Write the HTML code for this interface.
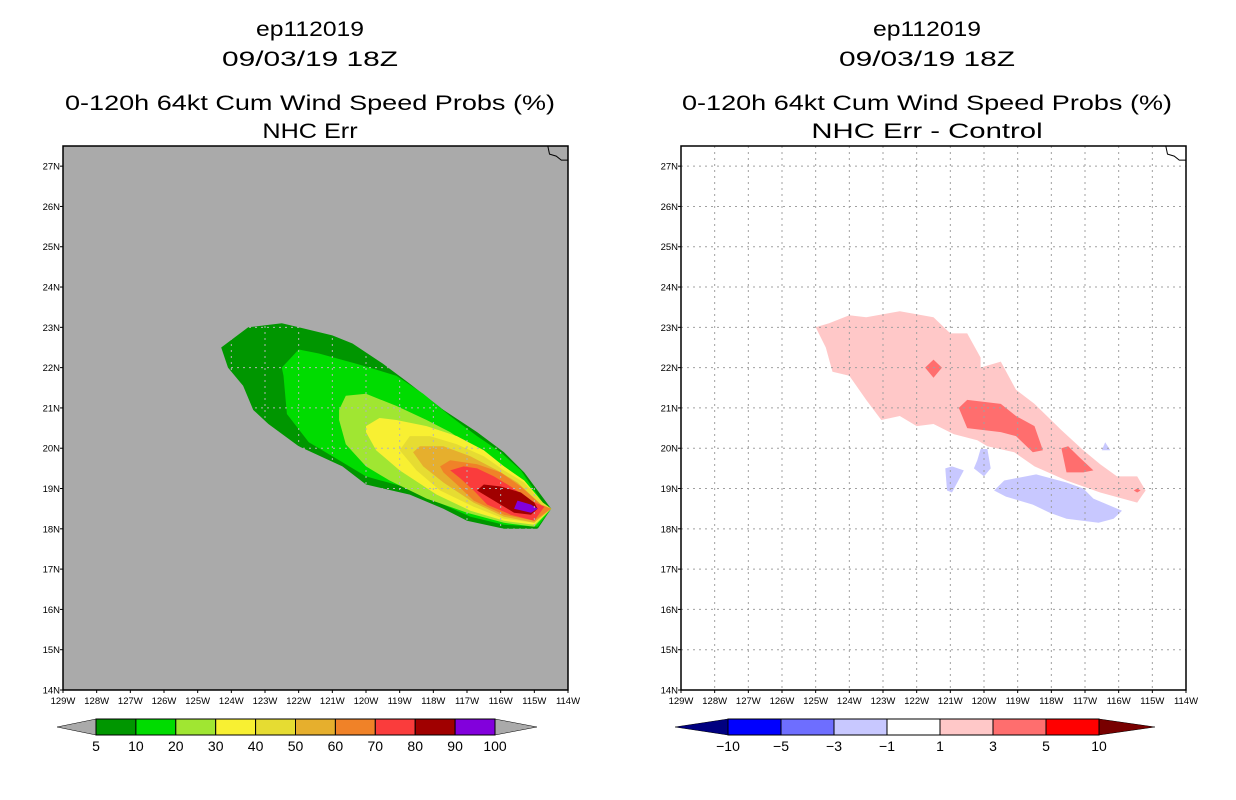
<!DOCTYPE html>
<html><head><meta charset="utf-8"><style>
html,body{margin:0;padding:0;background:#fff;}
svg{display:block;font-family:"Liberation Sans",sans-serif;}
</style></head><body>
<svg id="chart" width="1236" height="800" viewBox="0 0 1236 800" xmlns="http://www.w3.org/2000/svg"></svg>
<script>
// ---- data ----
const lonTicks=[129,128,127,126,125,124,123,122,121,120,119,118,117,116,115,114];
const latTicks=[14,15,16,17,18,19,20,21,22,23,24,25,26,27];
const probLevels=["5","10","20","30","40","50","60","70","80","90","100"];
const probColors=["#009600","#00dc00","#a0e632","#f8f032","#e6dc32","#e6af2d","#f08228","#fa3c3c","#a00000","#8200dc"];
const diffLevels=["-10","-5","-3","-1","1","3","5","10"];
const diffColors=["#0000ff","#6e6eff","#c8c8ff","#ffffff","#ffc8c8","#ff6e6e","#ff0000"];
const prob5=[[124.3,22.5],[123.5,23.0],[122.5,23.1],[122.0,23.0],[121.0,22.8],[120.4,22.6],[119.5,22.1],[118.7,21.6],[117.7,20.95],[116.7,20.4],[115.9,19.9],[115.3,19.4],[114.5,18.5],[114.9,18.0],[115.9,18.0],[117.0,18.2],[117.7,18.5],[118.7,18.85],[120.0,19.1],[120.7,19.55],[122.0,20.05],[122.9,20.6],[123.35,20.95],[123.65,21.55],[124.1,22.0]];
const prob10=[[122.0,22.45],[121.4,22.35],[120.3,22.1],[119.1,21.8],[118.3,21.35],[117.5,20.8],[116.7,20.3],[116.0,19.9],[115.4,19.45],[114.75,18.65],[114.5,18.5],[114.9,18.05],[115.9,18.1],[116.9,18.3],[117.7,18.6],[118.7,19.0],[120.0,19.3],[120.8,19.7],[121.7,20.15],[122.35,20.85],[122.45,21.8],[122.5,22.0]];
const prob20=[[120.8,20.95],[120.6,21.3],[120.0,21.35],[119.1,21.05],[118.2,20.7],[117.5,20.4],[116.7,19.95],[115.9,19.55],[115.3,19.2],[114.75,18.65],[114.5,18.5],[115.0,18.05],[115.9,18.15],[117.0,18.4],[118.2,18.75],[119.3,19.2],[120.0,19.55],[120.6,20.1],[120.8,20.7]];
const prob30=[[120.0,20.55],[119.6,20.75],[119.1,20.7],[118.2,20.55],[117.3,20.3],[116.5,19.95],[115.9,19.55],[115.3,19.2],[114.75,18.65],[114.5,18.5],[115.0,18.1],[115.9,18.2],[116.9,18.45],[117.9,18.85],[119.0,19.45],[119.7,19.95],[120.0,20.4]];
const prob40=[[119.0,19.95],[118.7,20.3],[118.1,20.3],[117.3,20.1],[116.5,19.8],[115.9,19.45],[115.3,19.15],[114.75,18.65],[114.5,18.5],[115.0,18.15],[115.9,18.25],[116.8,18.55],[117.8,18.95],[118.5,19.45]];
const prob50=[[118.6,19.9],[118.4,20.05],[117.7,20.05],[116.9,19.8],[116.1,19.45],[115.5,19.15],[114.8,18.6],[114.5,18.5],[115.0,18.15],[115.9,18.3],[116.8,18.65],[117.7,19.15],[118.3,19.55]];
const prob60=[[117.8,19.55],[117.5,19.7],[116.7,19.6],[116.0,19.4],[115.4,19.05],[114.8,18.6],[114.5,18.5],[115.0,18.2],[115.9,18.35],[116.8,18.7],[117.3,19.1],[117.7,19.4]];
const prob70=[[117.5,19.45],[117.1,19.55],[116.7,19.5],[116.2,19.3],[115.7,19.05],[115.1,18.7],[114.7,18.55],[115.0,18.2],[115.7,18.35],[116.4,18.6],[116.8,18.95],[117.2,19.25]];
const prob80=[[116.7,18.95],[116.5,19.1],[116.0,19.05],[115.4,18.9],[115.0,18.65],[114.9,18.5],[115.1,18.35],[115.6,18.4],[116.1,18.65]];
const prob90=[[115.6,18.5],[115.5,18.7],[115.1,18.6],[114.9,18.5],[115.1,18.4]];
const diffPos1=[[125.0,23.0],[124.6,23.1],[124.0,23.3],[123.5,23.25],[122.5,23.4],[121.5,23.25],[121.0,22.85],[120.5,22.85],[120.1,22.25],[120.1,22.0],[119.5,22.15],[119.05,21.45],[118.5,21.1],[117.7,20.45],[117.05,19.95],[116.55,19.6],[116.05,19.3],[115.45,19.3],[115.2,18.95],[115.45,18.65],[116.55,18.9],[117.55,19.2],[118.5,19.55],[119.1,19.9],[119.9,20.05],[120.2,20.2],[120.9,20.35],[121.5,20.6],[122.0,20.55],[122.5,20.8],[123.05,20.7],[123.5,21.2],[124.0,21.8],[124.5,21.9],[124.7,22.5]];
const diffPos3a=[[121.75,22.0],[121.5,22.2],[121.25,22.0],[121.5,21.75]];
const diffPos3b=[[120.75,21.0],[120.5,21.2],[119.5,21.1],[119.05,20.8],[118.5,20.55],[118.25,19.95],[118.55,19.9],[119.05,20.3],[119.5,20.4],[120.5,20.5]];
const diffPos3c=[[117.7,20.0],[117.5,20.05],[117.2,19.8],[116.75,19.45],[117.05,19.4],[117.55,19.4]];
const diffPos3d=[[115.55,18.95],[115.45,19.0],[115.35,18.95],[115.45,18.9]];
const diffNeg1=[[121.15,19.5],[120.95,19.55],[120.6,19.45],[120.95,18.9],[121.1,18.95]];
const diffNeg2=[[120.1,19.98],[119.9,19.98],[119.8,19.5],[120.0,19.3],[120.3,19.5],[120.2,19.7]];
const diffNeg3=[[119.7,18.95],[119.4,19.2],[118.45,19.35],[117.55,19.15],[117.05,19.0],[116.75,18.75],[115.9,18.45],[116.15,18.25],[116.6,18.15],[117.55,18.25],[118.05,18.4],[118.55,18.6],[119.35,18.8]];
const diffNeg4=[[116.5,19.95],[116.4,20.15],[116.25,19.95]];
const coast=[[114.6,27.5],[114.55,27.3],[114.35,27.25],[114.2,27.15],[114.0,27.15]];

// ---- helpers ----
const NS="http://www.w3.org/2000/svg";
const svg=document.getElementById('chart');
function mk(tag,attrs,parent){const e=document.createElementNS(NS,tag);for(const k in attrs)e.setAttribute(k,attrs[k]);(parent||svg).appendChild(e);return e;}
const W=505,H=544,TOP=146;
function xs(x0){return lon=>x0+(129-lon)*W/15;}
function ys(lat){return TOP+(27.5-lat)*H/13.5;}
function pts(arr,x){return arr.map(p=>x(p[0]).toFixed(1)+","+ys(p[1]).toFixed(1)).join(" ");}

function titles(cx,sub){
  const t=[["ep112019",36,108],["09/03/19 18Z",66,176],["0-120h 64kt Cum Wind Speed Probs (%)",110,490]];
  t.forEach((d,i)=>{const e=mk('text',{x:cx,y:d[1],'text-anchor':'middle','font-size':21,textLength:d[2],lengthAdjust:'spacingAndGlyphs',fill:'#000'});e.textContent=d[0];
    
    });
  const e=mk('text',{x:cx,y:138,'text-anchor':'middle','font-size':21,textLength:sub.length*13.6,lengthAdjust:'spacingAndGlyphs',fill:'#000'});e.textContent=sub;
  
  
}

function axes(x0,g){
  const x=xs(x0);
  latTicks.forEach(l=>{const t=mk('text',{x:x0-3,y:ys(l)+3.5,'text-anchor':'end','font-size':9.5,fill:'#000'},g);t.textContent=l+"N";
    
    
    mk('line',{x1:x0-3,x2:x0,y1:ys(l),y2:ys(l),stroke:'#000'},g);});
  lonTicks.forEach(l=>{const t=mk('text',{x:x(l),y:TOP+H+14,'text-anchor':'middle','font-size':9.5,fill:'#000'},g);t.textContent=l+"W";
    
    
    mk('line',{x1:x(l),x2:x(l),y1:TOP+H,y2:TOP+H+3,stroke:'#000'},g);});
}
function grid(x0,g,color){
  const x=xs(x0);
  lonTicks.slice(1,-1).forEach(l=>mk('line',{x1:x(l),x2:x(l),y1:TOP,y2:TOP+H,stroke:color,'stroke-width':1,'stroke-dasharray':'2,4'},g));
  latTicks.slice(1).forEach(l=>mk('line',{x1:x0,x2:x0+W,y1:ys(l),y2:ys(l),stroke:color,'stroke-width':1,'stroke-dasharray':'2,4'},g));
}
function poly(arr,x,fill,name,g){const p=mk('polygon',{points:pts(arr,x),fill:fill},g);
  
  return p;}

// ---- left panel ----
titles(310,"NHC Err");
const L0=63, xl=xs(L0);
const gl=mk('g',{});


mk('rect',{x:L0,y:TOP,width:W,height:H,fill:'#aaaaaa'},gl);
const probPolys=[prob5,prob10,prob20,prob30,prob40,prob50,prob60,prob70,prob80,prob90];
probPolys.forEach((a,i)=>poly(a,xl,probColors[i],'prob-contour-'+probLevels[i],gl));
const cp=mk('clipPath',{id:'clipL'},gl);mk('polygon',{points:pts(prob5,xl)},cp);
const gg=mk('g',{'clip-path':'url(#clipL)'},gl);grid(L0,gg,'#b4b4b4');
mk('polyline',{points:pts(coast,xl),fill:'none',stroke:'#000','stroke-width':1},gl);
mk('rect',{x:L0,y:TOP,width:W,height:H,fill:'none',stroke:'#000','stroke-width':1.5},gl);
axes(L0,gl);

// ---- right panel ----
titles(927,"NHC Err - Control");
const R0=681, xr=xs(R0);
const gr=mk('g',{});


mk('rect',{x:R0,y:TOP,width:W,height:H,fill:'#fff'},gr);
poly(diffPos1,xr,diffColors[4],'diff-contour-pos1',gr);
[diffPos3a,diffPos3b,diffPos3c,diffPos3d].forEach(a=>poly(a,xr,diffColors[5],'diff-contour-pos3',gr));
[diffNeg1,diffNeg2,diffNeg3,diffNeg4].forEach(a=>poly(a,xr,diffColors[2],'diff-contour-neg1',gr));
grid(R0,gr,'#a0a0a0');
mk('polyline',{points:pts(coast,xr),fill:'none',stroke:'#000','stroke-width':1},gr);
mk('rect',{x:R0,y:TOP,width:W,height:H,fill:'none',stroke:'#000','stroke-width':1.5},gr);
axes(R0,gr);

// ---- colorbars ----
function colorbar(x0,x1,tl,tr,colors,labels,lowC,highC,name){
  const g=mk('g',{});
  
  
  const y0=719,y1=735,ym=727,n=colors.length,w=(x1-x0)/n;
  mk('polygon',{points:`${tl},${ym} ${x0},${y0} ${x0},${y1}`,fill:lowC,stroke:'#000','stroke-width':0.5},g);
  mk('polygon',{points:`${tr},${ym} ${x1},${y0} ${x1},${y1}`,fill:highC,stroke:'#000','stroke-width':0.5},g);
  colors.forEach((c,i)=>mk('rect',{x:x0+i*w,y:y0,width:w,height:y1-y0,fill:c,stroke:'#000','stroke-width':1},g));
  labels.forEach((l,i)=>{const t=mk('text',{x:x0+i*w,y:751,'text-anchor':'middle','font-size':14,fill:'#000'},g);t.textContent=l.replace('-','\u2212');
    
    });
}
colorbar(96,495,57,537,probColors,probLevels,'#aaaaaa','#aaaaaa','prob-colorbar');
colorbar(728,1099,675,1155,diffColors,diffLevels,'#000080','#780000','diff-colorbar');
</script>
</body></html>
